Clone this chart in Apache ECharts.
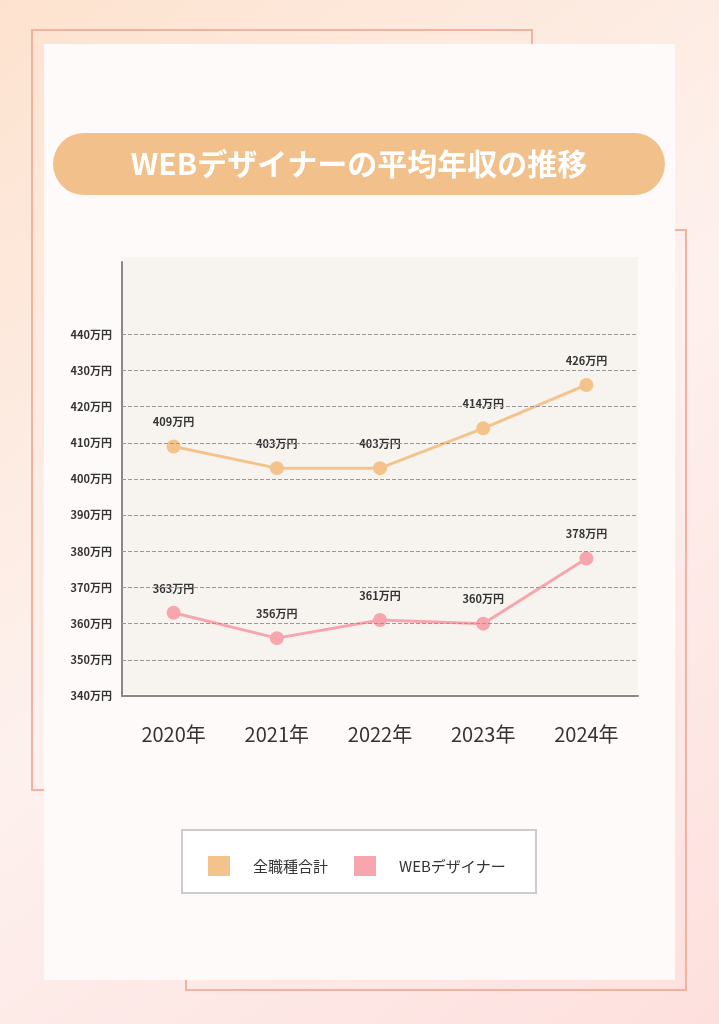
<!DOCTYPE html>
<html><head><meta charset="utf-8">
<script src="https://cdn.jsdelivr.net/npm/echarts@6/dist/echarts.min.js"></script>
<style>
html,body{margin:0;padding:0}
#c{width:719px;height:1024px}
</style></head>
<body><div id="c"></div>
<script>
// data
const years = ['2020年', '2021年', '2022年', '2023年', '2024年']
const allJobs = [409, 403, 403, 414, 426]
const webDesigner = [363, 356, 361, 360, 378]
const yTicks = [340, 350, 360, 370, 380, 390, 400, 410, 420, 430, 440]

const FONT = '"Noto Sans CJK JP", "Noto Sans", sans-serif'
const chart = echarts.init(document.getElementById('c'))

const labelOpt = {
  show: true, position: 'top', distance: 12,
  formatter: p => p.value + '万円',
  color: '#333', fontSize: 11, fontWeight: 'bold', fontFamily: FONT
}

chart.setOption({
  backgroundColor: {
    type: 'linear', x: 0, y: 0, x2: 1, y2: 1,
    colorStops: [{ offset: 0, color: '#fde3cf' }, { offset: 0.5, color: '#fdf1ee' }, { offset: 1, color: '#fde0de' }]
  },
  animation: false,
  graphic: [
    { type: 'rect', z: -10, shape: { x: 32, y: 30, width: 500, height: 760 }, style: { fill: 'none', stroke: '#f3b2a0', lineWidth: 2 } },
    { type: 'rect', z: -10, shape: { x: 186, y: 230, width: 500, height: 760 }, style: { fill: 'none', stroke: '#f3b2a0', lineWidth: 2 } },
    { type: 'rect', z: -9, shape: { x: 44, y: 44, width: 631, height: 936 }, style: { fill: '#fefaf9' } },
    { type: 'rect', z: -8, shape: { x: 122, y: 257, width: 516, height: 437 }, style: { fill: '#f7f4f0' } },
    { type: 'rect', z: -8, shape: { x: 53, y: 133, width: 612, height: 62, r: 31 }, style: { fill: '#f2c18b' } },
    { type: 'text', z: -7, x: 359, y: 164, style: { text: 'WEBデザイナーの平均年収の推移', fill: '#fff', font: 'bold 30px ' + FONT, align: 'center', verticalAlign: 'middle' } },
    { type: 'rect', z: -8, shape: { x: 182, y: 830, width: 354, height: 63 }, style: { fill: '#fff', stroke: '#cccccc', lineWidth: 2 } }
  ],
  legend: {
    left: 203, top: 851, itemGap: 26, itemWidth: 22, itemHeight: 20,
    icon: 'rect',
    textStyle: { fontSize: 15, color: '#333', fontFamily: FONT, padding: [0, 0, 0, 18] },
    data: ['全職種合計', 'WEBデザイナー']
  },
  grid: { left: 122, right: 81, top: 262, bottom: 328 },
  xAxis: {
    type: 'category', data: years,
    axisLine: { lineStyle: { color: '#888', width: 2 } },
    axisTick: { show: false },
    axisLabel: { fontSize: 20, color: '#333', margin: 28, fontFamily: FONT }
  },
  yAxis: {
    type: 'value', min: 340, max: 460, interval: 10,
    axisLine: { show: true, lineStyle: { color: '#888', width: 2 } },
    axisTick: { show: false },
    splitLine: { show: false },
    axisLabel: {
      fontSize: 11, fontWeight: 'bold', color: '#333', fontFamily: FONT, margin: 10,
      formatter: v => yTicks.includes(v) ? v + '万円' : ''
    }
  },
  series: [
    {
      name: '全職種合計', type: 'line', data: allJobs,
      color: '#f4c38c', symbol: 'circle', symbolSize: 14,
      lineStyle: { width: 3 }, label: labelOpt,
      markLine: {
        silent: true, symbol: 'none', label: { show: false },
        lineStyle: { color: '#999', type: 'dashed', width: 1 },
        data: yTicks.slice(1).map(v => ({ yAxis: v }))
      }
    },
    {
      name: 'WEBデザイナー', type: 'line', data: webDesigner,
      color: '#f7a6ae', symbol: 'circle', symbolSize: 14,
      lineStyle: { width: 3 }, label: labelOpt
    }
  ]
})
</script></body></html>
